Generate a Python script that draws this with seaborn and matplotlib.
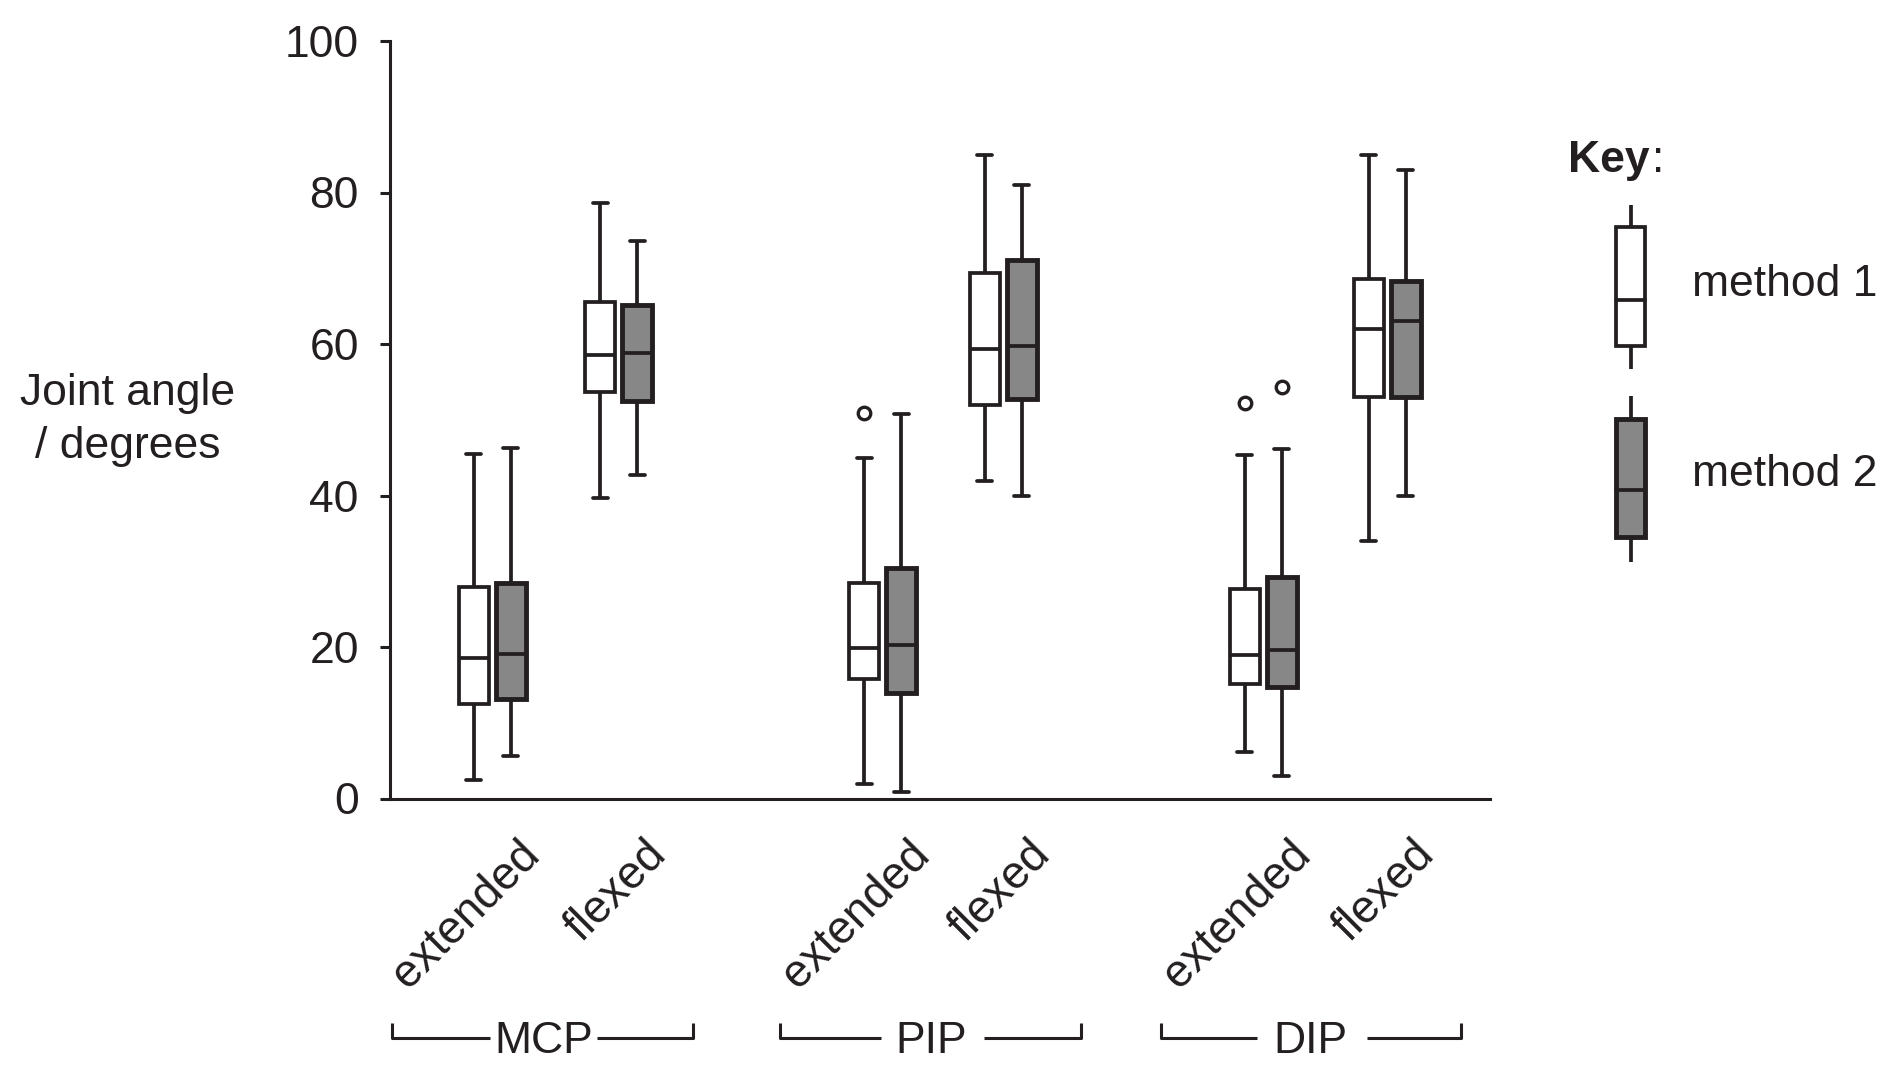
import matplotlib
matplotlib.use('Agg')
import matplotlib.pyplot as plt
import matplotlib.transforms as mtransforms
from matplotlib.patches import Rectangle
import seaborn as sns
import pandas as pd

# five-number summaries (joint angle, degrees)
joints = ['MCP', 'MCP', 'PIP', 'PIP', 'DIP', 'DIP']
states = ['extended', 'flexed', 'extended', 'flexed', 'extended', 'flexed']
methods = ['method 1', 'method 2']

m1_low = [2.5, 39.7, 1.9, 41.9, 6.2, 34.0]
m1_q1 = [12.5, 53.6, 15.8, 51.9, 15.1, 53.0]
m1_med = [18.6, 58.5, 19.9, 59.4, 19.0, 62.0]
m1_q3 = [27.9, 65.6, 28.5, 69.4, 27.6, 68.6]
m1_high = [45.5, 78.6, 44.9, 84.9, 45.3, 84.9]
m1_out = [None, None, 50.9, None, 52.2, None]

m2_low = [5.6, 42.7, 0.8, 40.0, 3.0, 40.0]
m2_q1 = [13.1, 52.5, 13.9, 52.7, 14.7, 53.0]
m2_med = [19.1, 58.8, 20.3, 59.8, 19.6, 63.0]
m2_q3 = [28.5, 65.2, 30.4, 71.1, 29.3, 68.3]
m2_high = [46.3, 73.6, 50.8, 81.0, 46.2, 83.0]
m2_out = [None, None, None, None, 54.3, None]

# layout: x position of each joint/state pair (groups are spaced apart)
positions = [0, 1.02, 3.15, 4.12, 6.22, 7.22]

INK = '#231f20'
GREY = '#878787'
FS = 32
LW = 2.7


def group_values(low, q1, med, q3, high, out):
    # points whose quartiles / whiskers reproduce the summary
    if out is None:
        return [low, q1, med, q3, high]
    return [low, q1, q1, med, med, q3, q3, high, out]


rows = []
summaries = {
    'method 1': (m1_low, m1_q1, m1_med, m1_q3, m1_high, m1_out),
    'method 2': (m2_low, m2_q1, m2_med, m2_q3, m2_high, m2_out),
}
for i in range(len(states)):
    for m in methods:
        s = summaries[m]
        for v in group_values(*(col[i] for col in s)):
            rows.append({'pos': positions[i], 'joint': joints[i], 'state': states[i],
                         'method': m, 'angle': v})
df = pd.DataFrame(rows)

sns.set_style('white')
plt.rcParams['font.family'] = ['Liberation Sans', 'DejaVu Sans']

W, H = 1900, 1078
fig = plt.figure(figsize=(W / 100, H / 100), dpi=100)
ax = fig.add_axes([390 / W, 1 - 798.5 / H, 1100 / W, (798.5 - 41) / H])

sns.boxplot(data=df, x='pos', y='angle', hue='method', hue_order=methods,
            native_scale=True, width=0.615, gap=0.19,
            palette={'method 1': 'white', 'method 2': GREY},
            linecolor=INK, linewidth=LW,
            flierprops=dict(marker='o', markersize=9, markerfacecolor='none',
                            markeredgecolor=INK, markeredgewidth=2.4),
            legend=False, ax=ax)

# grey boxes are drawn with a heavier outline in the original
for p in ax.patches:
    if p.get_facecolor()[0] < 0.9:
        p.set_linewidth(LW + 0.8)

ax.set_xlim(-0.824, 8.047)
ax.set_ylim(0, 100)
ax.set_yticks(range(0, 101, 20))
ax.tick_params(axis='y', left=True, direction='out', length=7.5, width=2.2,
               pad=15, labelsize=FS, color=INK, labelcolor=INK)
ax.set_xticks(positions)
ax.set_xticklabels(states, rotation=45, ha='right', va='top',
                   rotation_mode='anchor', fontsize=33, color=INK)
ax.tick_params(axis='x', bottom=False, length=0, pad=34 / 1.389)
shift = mtransforms.ScaledTranslation(25 / 100, 0, fig.dpi_scale_trans)
for lab in ax.get_xticklabels():
    lab.set_transform(lab.get_transform() + shift)
ax.set_xlabel('')
ax.set_ylabel('')
sns.despine(ax=ax)
for side in ['left', 'bottom']:
    ax.spines[side].set_linewidth(2.2)
    ax.spines[side].set_color(INK)

# overlay in pixel coordinates for labels, brackets and key
ov = fig.add_axes([0, 0, 1, 1])
ov.set_xlim(0, W)
ov.set_ylim(H, 0)
ov.axis('off')

ov.text(128, 405, 'Joint angle', ha='center', va='baseline', fontsize=FS, color=INK)
ov.text(128, 458, '/ degrees', ha='center', va='baseline', fontsize=FS, color=INK)

# group brackets
brackets = [('MCP', 391.7, 490, 597, 693, 543.5),
            ('PIP', 780, 881, 984, 1081, 931),
            ('DIP', 1161, 1256.5, 1367, 1461, 1310)]
by, bt = 1037.7, 1023
for name, x0, x1, x2, x3, xc in brackets:
    ov.plot([x0, x0, x1], [bt, by, by], color=INK, lw=2.2,
            solid_joinstyle='round', solid_capstyle='butt')
    ov.plot([x2, x3, x3], [by, by, bt], color=INK, lw=2.2,
            solid_joinstyle='round', solid_capstyle='butt')
    ov.text(xc, 1053.3, name, ha='center', va='baseline', fontsize=FS, color=INK)

# key
ov.text(1568, 171.7, 'Key', fontweight='bold', va='baseline', fontsize=FS, color=INK)
ov.text(1651.7, 171.7, ':', va='baseline', fontsize=FS, color=INK)
key_glyphs = [(205, 226.7, 300, 345.7, 369, 'white', 'method 1', 295.7, LW),
              (396, 419, 490, 536.7, 561.7, GREY, 'method 2', 485.7, LW + 0.8)]
kx, kw = 1630.5, 29
for wt, btop, med, bbot, wb, fc, label, base, elw in key_glyphs:
    ov.add_patch(Rectangle((kx - kw / 2, btop), kw, bbot - btop,
                           facecolor=fc, edgecolor=INK, lw=elw))
    ov.plot([kx, kx], [wt, btop], color=INK, lw=LW, solid_capstyle='butt')
    ov.plot([kx, kx], [bbot, wb], color=INK, lw=LW, solid_capstyle='butt')
    ov.plot([kx - kw / 2, kx + kw / 2], [med, med], color=INK, lw=LW)
    ov.text(1691.7, base, label, va='baseline', fontsize=FS, color=INK)

fig.savefig('out.png', dpi=100)
